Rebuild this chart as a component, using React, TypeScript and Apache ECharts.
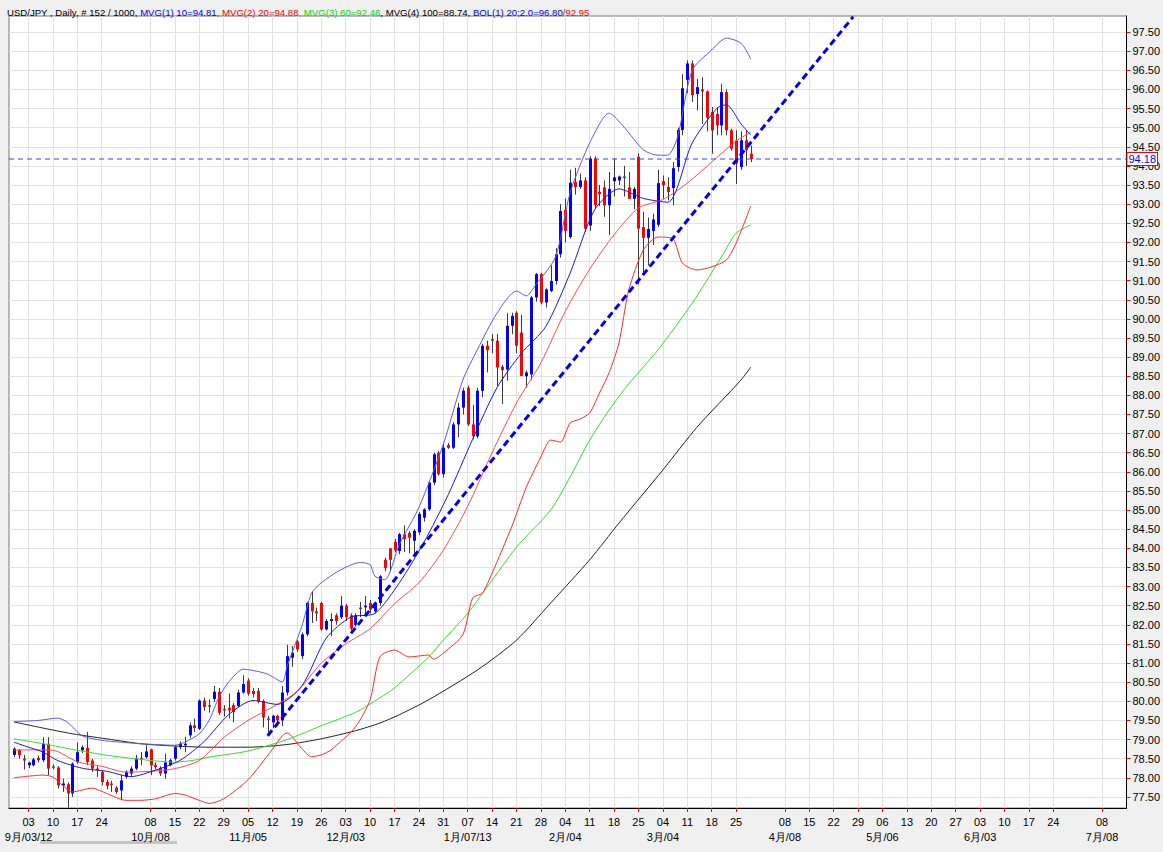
import React, { useEffect, useRef } from "react";
import * as echarts from "echarts";

// ---------- categories (trading days) ----------
const FIRST_DAY = "2012-08-28"; // one padding day before the first bar
const CATEGORY_COUNT = 230;
const BAR_OFFSET = 1; // first bar (2012-08-29) sits on category 1

const hiddenMondays = ["2012-10-01", "2013-04-01", "2013-07-01", "2013-07-15"];
const monthLabels: Record<string, string> = {
  "2012-09-03": "9月/03/12",
  "2012-10-08": "10月/08",
  "2012-11-05": "11月/05",
  "2012-12-03": "12月/03",
  "2013-01-07": "1月/07/13",
  "2013-02-04": "2月/04",
  "2013-03-04": "3月/04",
  "2013-04-08": "4月/08",
  "2013-05-06": "5月/06",
  "2013-06-03": "6月/03",
  "2013-07-08": "7月/08",
};

const yTicks = [
  77.5, 78.0, 78.5, 79.0, 79.5, 80.0, 80.5, 81.0, 81.5, 82.0, 82.5, 83.0, 83.5, 84.0,
  84.5, 85.0, 85.5, 86.0, 86.5, 87.0, 87.5, 88.0, 88.5, 89.0, 89.5, 90.0, 90.5, 91.0,
  91.5, 92.0, 92.5, 93.0, 93.5, 94.0, 94.5, 95.0, 95.5, 96.0, 96.5, 97.0, 97.5,
];

// ---------- candles (152 bars) ----------
const opens = [
  78.60, 78.73, 78.50, 78.33, 78.33, 78.52, 78.46, 78.89, 78.30, 78.27,
  77.80, 77.83, 77.59, 78.41, 78.72, 78.78, 78.45, 78.24, 78.15, 77.89,
  77.85, 77.74, 77.67, 78.02, 78.11, 78.24, 78.50, 78.54, 78.74, 78.33,
  78.26, 78.11, 78.33, 78.50, 78.80, 78.85, 79.11, 79.37, 79.28, 80.02,
  79.87, 80.06, 80.25, 79.80, 79.83, 79.90, 79.88, 80.23, 80.54, 80.27,
  80.27, 80.01, 79.55, 79.45, 79.62, 79.50, 80.23, 81.14, 81.57, 81.18,
  81.75, 82.57, 82.35, 82.57, 81.88, 82.10, 82.25, 82.20, 82.50, 82.25,
  82.00, 82.43, 82.46, 82.57, 82.35, 82.57, 83.70, 84.00, 84.17, 83.93,
  84.37, 84.40, 84.20, 84.42, 84.80, 85.02, 85.72, 86.50, 85.94, 86.70,
  86.63, 87.24, 87.68, 88.20, 87.24, 86.93, 88.12, 89.30, 89.47, 89.43,
  88.75, 88.68, 89.82, 90.16, 89.64, 88.50, 88.55, 90.56, 91.17, 90.43,
  90.73, 90.99, 91.69, 92.85, 92.14, 93.58, 93.45, 93.62, 92.44, 94.19,
  93.32, 93.44, 92.97, 93.60, 93.62, 93.72, 93.44, 93.14, 94.24, 92.40,
  92.12, 92.30, 92.46, 93.60, 93.45, 93.42, 93.97, 94.94, 96.25, 96.68,
  95.88, 96.00, 95.95, 95.41, 95.36, 95.06, 95.93, 94.93, 94.67, 93.97,
  94.67, 94.32,
];
const highs = [
  78.80, 78.75, 78.60, 78.42, 78.52, 78.58, 79.06, 79.06, 78.35, 78.30,
  77.98, 77.88, 78.40, 78.93, 78.85, 79.20, 78.50, 78.30, 78.20, 77.95,
  77.92, 77.78, 78.07, 78.20, 78.30, 78.60, 78.67, 78.85, 78.76, 78.40,
  78.30, 78.63, 78.50, 78.85, 78.95, 79.07, 79.45, 79.55, 80.05, 80.10,
  80.05, 80.40, 80.35, 79.90, 80.20, 79.95, 80.30, 80.68, 80.60, 80.35,
  80.35, 80.05, 79.62, 79.65, 79.65, 80.40, 81.48, 81.45, 81.60, 81.80,
  82.60, 82.88, 82.45, 82.60, 82.15, 82.30, 82.30, 82.75, 82.55, 82.30,
  82.30, 82.60, 82.75, 82.65, 82.60, 83.30, 83.75, 84.00, 84.25, 84.40,
  84.60, 84.45, 84.50, 84.95, 85.05, 85.75, 86.50, 86.55, 86.76, 86.75,
  87.30, 87.80, 88.20, 88.25, 87.75, 88.20, 89.35, 89.43, 89.60, 89.60,
  88.80, 90.15, 90.16, 90.20, 90.10, 88.65, 90.60, 91.20, 91.20, 90.80,
  91.40, 91.85, 93.00, 93.15, 93.90, 93.95, 93.80, 93.70, 94.25, 94.25,
  93.50, 93.62, 93.84, 94.20, 93.75, 94.00, 93.84, 93.45, 94.33, 92.80,
  92.65, 92.75, 93.90, 93.75, 93.70, 94.10, 95.00, 96.40, 96.76, 96.76,
  96.28, 96.32, 95.97, 95.54, 95.54, 96.15, 96.00, 94.97, 94.93, 94.90,
  94.93, 94.53,
];
const lows = [
  78.54, 78.50, 78.22, 78.25, 78.30, 78.40, 78.41, 78.07, 78.22, 77.72,
  77.63, 77.22, 77.50, 78.37, 78.65, 78.33, 78.15, 78.02, 77.80, 77.70,
  77.63, 77.58, 77.41, 77.98, 78.05, 78.20, 78.33, 78.50, 78.07, 78.22,
  78.05, 77.98, 78.30, 78.45, 78.75, 78.67, 79.05, 79.20, 79.25, 79.75,
  79.70, 79.98, 79.65, 79.60, 79.55, 79.45, 79.85, 80.20, 80.15, 80.10,
  79.95, 79.32, 79.19, 79.30, 79.35, 79.35, 80.15, 80.90, 81.30, 81.10,
  81.70, 82.05, 82.10, 81.85, 81.85, 81.70, 82.00, 82.15, 82.10, 81.85,
  81.95, 82.20, 82.25, 82.30, 82.30, 82.50, 83.40, 83.40, 83.90, 83.85,
  83.90, 83.87, 83.80, 84.35, 84.70, 84.98, 85.65, 85.90, 85.85, 86.60,
  86.60, 86.90, 87.50, 87.20, 86.85, 86.88, 87.95, 88.60, 89.10, 88.25,
  87.77, 88.38, 89.60, 89.10, 88.50, 88.20, 88.40, 90.45, 90.38, 90.30,
  90.70, 90.90, 91.60, 92.00, 92.10, 93.25, 93.40, 92.27, 92.30, 92.90,
  92.95, 92.67, 92.20, 93.20, 93.50, 93.20, 93.14, 92.87, 90.90, 91.20,
  91.40, 91.93, 92.40, 93.14, 93.10, 92.97, 93.85, 94.80, 95.90, 95.67,
  95.45, 95.10, 94.90, 94.32, 94.80, 94.80, 94.80, 94.40, 93.53, 93.90,
  94.00, 94.10,
];
const closes = [
  78.76, 78.59, 78.45, 78.40, 78.48, 78.46, 78.89, 78.24, 78.28, 77.80,
  77.85, 77.59, 78.37, 78.67, 78.80, 78.41, 78.24, 78.20, 77.89, 77.79,
  77.82, 77.63, 77.93, 78.15, 78.24, 78.50, 78.52, 78.69, 78.33, 78.28,
  78.11, 78.40, 78.46, 78.80, 78.89, 78.89, 79.37, 79.30, 80.02, 79.85,
  79.90, 80.25, 79.70, 79.78, 79.76, 79.72, 80.23, 80.45, 80.20, 80.19,
  80.00, 79.58, 79.52, 79.62, 79.50, 80.23, 81.18, 81.27, 81.36, 81.75,
  82.57, 82.35, 82.30, 81.88, 82.10, 82.15, 82.10, 82.50, 82.20, 81.90,
  82.25, 82.45, 82.50, 82.40, 82.57, 83.27, 83.48, 83.70, 83.95, 84.37,
  84.24, 84.28, 84.46, 84.90, 85.02, 85.72, 86.46, 85.94, 86.63, 86.63,
  87.24, 87.68, 88.12, 87.24, 86.93, 88.12, 89.30, 89.18, 89.43, 88.73,
  88.66, 89.82, 90.08, 89.30, 88.51, 88.60, 90.56, 91.17, 90.43, 90.77,
  90.99, 91.69, 92.82, 92.30, 93.56, 93.45, 93.62, 92.36, 94.19, 92.97,
  93.26, 92.97, 93.40, 93.70, 93.72, 93.69, 93.14, 93.40, 92.36, 92.12,
  92.35, 92.60, 93.55, 93.50, 93.32, 93.94, 94.94, 96.03, 96.68, 95.85,
  96.06, 95.95, 95.26, 94.93, 95.06, 95.93, 94.93, 94.45, 94.06, 94.67,
  94.41, 94.18,
];

// ---------- indicator lines: [bar index, value] ----------
const mvg10: [number, number][] = [
  [0, 78.93], [3, 78.8], [6, 78.67], [9, 78.45], [14, 78.25], [19, 78.17], [24, 78.03],
  [29, 78.2], [34, 78.45], [39, 78.95], [44, 79.65], [49, 80.02], [54, 79.92], [59, 80.4],
  [64, 81.65], [69, 82.2], [74, 82.3], [79, 83.1], [84, 84.15], [89, 85.4], [94, 86.85],
  [99, 88.2], [104, 89.1], [109, 89.8], [114, 91.2], [119, 92.85], [124, 93.4], [129, 93.15],
  [134, 93.05], [139, 94.6], [144, 95.5], [146, 95.6], [149, 95.1], [151, 94.81],
];
const mvg20: [number, number][] = [
  [0, 78.72], [3, 78.73], [8, 78.72], [13, 78.42], [18, 78.3], [23, 78.15], [28, 78.17],
  [33, 78.24], [38, 78.45], [43, 79.05], [48, 79.5], [53, 79.85], [58, 80.25], [63, 81.0],
  [68, 81.5], [73, 81.9], [78, 82.55], [83, 83.1], [88, 83.95], [93, 85.1], [98, 86.5],
  [103, 87.8], [108, 88.85], [113, 90.2], [118, 91.3], [123, 92.2], [128, 92.9], [133, 93.12],
  [138, 93.55], [143, 94.1], [148, 94.65], [151, 94.88],
];
const mvg60: [number, number][] = [
  [0, 79.02], [6, 78.89], [13, 78.72], [19, 78.59], [26, 78.48], [30, 78.43], [33, 78.41],
  [37, 78.46], [40, 78.54], [48, 78.7], [56, 79.0], [63, 79.36], [70, 79.71], [75, 80.09],
  [78, 80.35], [85, 81.16], [88, 81.6], [93, 82.3], [97, 82.99], [103, 84.03], [110, 85.0],
  [114, 85.87], [118, 86.83], [122, 87.62], [126, 88.3], [132, 89.19], [139, 90.41],
  [145, 91.62], [148, 92.24], [151, 92.46],
];
const mvg100: [number, number][] = [
  [0, 79.46], [6, 79.3], [12, 79.15], [20, 79.0], [26, 78.89], [33, 78.83], [40, 78.8],
  [48, 78.8], [56, 78.87], [63, 79.02], [70, 79.23], [75, 79.43], [79, 79.65], [85, 80.04],
  [95, 80.82], [103, 81.6], [110, 82.57], [118, 83.7], [124, 84.66], [133, 86.05],
  [140, 87.17], [149, 88.4], [151, 88.74],
];
const bolUpper: [number, number][] = [
  [0, 79.47], [5, 79.5], [9, 79.56], [11, 79.45], [14, 79.1], [18, 78.98], [23, 78.92],
  [26, 78.89], [29, 78.87], [33, 78.85], [35, 78.93], [38, 79.15], [40, 79.5], [42, 80.1],
  [44, 80.5], [47, 80.84], [50, 80.78], [52, 80.71], [55, 80.51], [56, 80.92], [59, 81.96],
  [61, 82.83], [63, 83.1], [67, 83.44], [71, 83.63], [73, 83.57], [74, 83.27], [76, 83.18],
  [79, 84.1], [83, 85.07], [88, 86.72], [92, 88.4], [95, 89.2], [99, 90.15], [103, 90.73],
  [105, 90.6], [107, 90.9], [111, 91.62], [114, 93.3], [118, 94.6], [122, 95.38],
  [125, 95.02], [129, 94.42], [132, 94.28], [134, 94.28], [136, 94.75], [139, 96.5],
  [143, 97.03], [146, 97.34], [149, 97.21], [151, 96.8],
];
const bolLower: [number, number][] = [
  [0, 78.0], [6, 78.07], [8, 78.02], [10, 77.8], [12, 77.63], [16, 77.73], [19, 77.59],
  [23, 77.41], [26, 77.41], [29, 77.45], [33, 77.59], [35, 77.55], [38, 77.41], [40, 77.33],
  [43, 77.45], [48, 77.95], [53, 78.75], [55, 79.1], [56, 79.17], [59, 78.76], [61, 78.55],
  [63, 78.6], [65, 78.73], [70, 79.33], [73, 80.04], [75, 81.16], [78, 81.34], [81, 81.16],
  [85, 81.21], [86, 81.1], [88, 81.26], [92, 81.74], [94, 82.7], [96, 82.83], [98, 83.35],
  [102, 84.56], [105, 85.6], [106, 85.87], [108, 86.39], [110, 86.83], [112, 86.78],
  [114, 87.28], [116, 87.38], [118, 87.54], [120, 88.06], [122, 88.6], [124, 89.37],
  [126, 90.75], [129, 91.8], [132, 92.14], [135, 92.1], [137, 91.46], [140, 91.28],
  [143, 91.36], [146, 91.54], [148, 91.98], [151, 92.95],
];

// trend line (bar index, price) and the last-price line
const trendStart: [number, number] = [52, 79.1];
const trendEnd: [number, number] = [172, 97.9];
const lastPrice = 94.18;

const FONT = "'Liberation Sans', Arial, sans-serif";
const TITLE_SIZE = 9.6;
const GRID_BOTTOM = 44;

function buildCategories(): string[] {
  const out: string[] = [];
  const d = new Date(FIRST_DAY + "T00:00:00Z");
  while (out.length < CATEGORY_COUNT) {
    const wd = d.getUTCDay();
    if (wd !== 0 && wd !== 6) out.push(d.toISOString().slice(0, 10));
    d.setUTCDate(d.getUTCDate() + 1);
  }
  return out;
}

export default function App() {
  const ref = useRef<HTMLDivElement>(null);

  useEffect(() => {
    if (!ref.current) return;
    const chart = echarts.init(ref.current, undefined, { renderer: "svg" });
    const categories = buildCategories();
    const tickDates = new Set(
      categories.filter(
        (s) => new Date(s + "T00:00:00Z").getUTCDay() === 1 && hiddenMondays.indexOf(s) < 0
      )
    );
    const isTick = (i: number) => tickDates.has(categories[i]);

    const candleData = opens.map((o, i) => [i + BAR_OFFSET, o, highs[i], lows[i], closes[i]]);
    const shift = (arr: [number, number][]) => arr.map(([i, v]) => [i + BAR_OFFSET, v]);

    const lineSeries = (name: string, data: [number, number][], color: string, extra: any = {}) => ({
      name,
      type: "line",
      data: shift(data),
      showSymbol: false,
      smooth: 0.25,
      silent: true,
      z: 3,
      lineStyle: { color, width: 1 },
      ...extra,
    });

    const rich = {
      k: { color: "#000", fontSize: TITLE_SIZE, fontFamily: FONT },
      b: { color: "#0000ff", fontSize: TITLE_SIZE, fontFamily: FONT },
      r: { color: "#ff0000", fontSize: TITLE_SIZE, fontFamily: FONT },
      g: { color: "#00dd00", fontSize: TITLE_SIZE, fontFamily: FONT },
    };

    const scrollbar = {
      id: "scrollbar",
      type: "rect",
      left: 40,
      top: 841,
      z: 1,
      shape: { width: 137, height: 3 },
      style: { fill: "#c4c4c4" },
      silent: true,
    };

    const option: any = {
      animation: false,
      backgroundColor: "#f0f0f0",
      textStyle: { fontFamily: FONT },
      title: {
        left: 2,
        top: 2,
        text:
          "{k|USD/JPY , Daily, # 152 / 1000, }{b|MVG(1) 10=94.81}{r|, MVG(2) 20=94.88}" +
          "{g|, MVG(3) 60=92.46}{k|, MVG(4) 100=88.74, }{b|BOL(1) 20;2.0=96.80}{r|/92.95}",
        textStyle: { fontSize: TITLE_SIZE, fontWeight: "normal", fontFamily: FONT, rich },
      },
      grid: {
        left: 9,
        right: 33,
        top: 16,
        bottom: GRID_BOTTOM,
        show: true,
        backgroundColor: "#ffffff",
        borderColor: "#777",
        borderWidth: 1,
      },
      xAxis: {
        type: "category",
        data: categories,
        boundaryGap: false,
        axisLine: { show: true, lineStyle: { color: "#000", width: 1 } },
        axisTick: {
          show: true,
          interval: (i: number) => isTick(i),
          length: 4,
          lineStyle: { color: "#ff0000" },
        },
        axisLabel: { show: false },
        splitLine: {
          show: true,
          interval: (i: number) => isTick(i),
          lineStyle: { color: "#e2e2e2", width: 1 },
        },
      },
      yAxis: {
        type: "value",
        position: "right",
        min: 77.21,
        max: 97.92,
        axisLine: { show: true, lineStyle: { color: "#000", width: 1 } },
        axisTick: {
          show: true,
          customValues: yTicks,
          length: 4,
          lineStyle: { color: "#ff0000" },
        },
        axisLabel: {
          customValues: yTicks,
          formatter: (v: number) => v.toFixed(2),
          color: "#000",
          fontSize: 11,
          fontFamily: FONT,
          margin: 6,
        },
        splitLine: { show: true, lineStyle: { color: "#e2e2e2", width: 1 } },
      },
      series: [
        {
          name: "USD/JPY",
          type: "custom",
          data: candleData,
          encode: { x: 0, y: [1, 2, 3, 4] },
          z: 2,
          silent: true,
          renderItem: (_params: any, api: any) => {
            const x = api.value(0);
            const o = api.value(1);
            const h = api.value(2);
            const l = api.value(3);
            const c = api.value(4);
            const pO = api.coord([x, o]);
            const pC = api.coord([x, c]);
            const pH = api.coord([x, h]);
            const pL = api.coord([x, l]);
            const px = Math.round(pO[0]) + 0.5;
            const top = Math.min(pO[1], pC[1]);
            const bot = Math.max(pO[1], pC[1]);
            const diff = c - o;
            const color = Math.abs(diff) < 0.035 ? "#555555" : diff > 0 ? "#0000ff" : "#ff0000";
            return {
              type: "group",
              children: [
                {
                  type: "line",
                  shape: { x1: px, y1: pH[1], x2: px, y2: pL[1] },
                  style: { stroke: "#3a3a3a", lineWidth: 1 },
                },
                {
                  type: "rect",
                  shape: { x: px - 1.5, y: top, width: 3, height: Math.max(bot - top, 1.5) },
                  style: { fill: color },
                },
              ],
            };
          },
        },
        {
          name: "last",
          type: "line",
          data: [
            [0, lastPrice],
            [CATEGORY_COUNT - 1, lastPrice],
          ],
          showSymbol: false,
          silent: true,
          z: 4,
          lineStyle: { color: "#3c3cff", width: 1, type: [5, 4] },
          endLabel: {
            show: true,
            formatter: lastPrice.toFixed(2),
            color: "#0000ff",
            backgroundColor: "#ffffff",
            borderColor: "#ff0000",
            borderWidth: 1,
            padding: [1, 1, 0, 1],
            distance: 1,
            fontSize: 11,
            fontFamily: FONT,
          },
        },
        lineSeries("MVG(4) 100", mvg100, "#222222"),
        lineSeries("MVG(3) 60", mvg60, "#33dd33"),
        lineSeries("BOL lower", bolLower, "#ff2a2a"),
        lineSeries("BOL upper", bolUpper, "#5a5ae6"),
        lineSeries("MVG(2) 20", mvg20, "#ff4a4a"),
        lineSeries("MVG(1) 10", mvg10, "#1a1ad0", {
          markLine: {
            silent: true,
            symbol: ["none", "none"],
            animation: false,
            lineStyle: { type: [7, 4], color: "#0000ee", width: 3 },
            label: { show: false },
            data: [
              [
                { coord: [trendStart[0] + BAR_OFFSET, trendStart[1]] },
                { coord: [trendEnd[0] + BAR_OFFSET, trendEnd[1]] },
              ],
            ],
          },
        }),
      ],
      graphic: [scrollbar],
    };

    chart.setOption(option);

    // date axis labels (two rows), positioned through the category scale
    const axisY = chart.getHeight() - GRID_BOTTOM;
    const textStyle = (text: string) => ({
      text,
      align: "center",
      verticalAlign: "middle",
      fill: "#000",
      font: "11px 'Liberation Sans', Arial, sans-serif",
    });
    const dateTexts: any[] = [];
    categories.forEach((c, i) => {
      if (!tickDates.has(c)) return;
      const px = chart.convertToPixel({ xAxisIndex: 0 }, i);
      const x = Array.isArray(px) ? px[0] : (px as number);
      dateTexts.push({
        id: "day-" + c,
        type: "text",
        x,
        y: axisY + 14,
        z: 100,
        silent: true,
        style: textStyle(c.slice(8, 10)),
      });
      const m = monthLabels[c];
      if (m) {
        dateTexts.push({
          id: "month-" + c,
          type: "text",
          x,
          y: axisY + 29,
          z: 99,
          silent: true,
          style: textStyle(m),
        });
      }
    });
    chart.setOption({ graphic: [scrollbar, ...dateTexts] }, { replaceMerge: ["graphic"] });

    return () => chart.dispose();
  }, []);

  return (
    <div
      ref={ref}
      style={{ position: "absolute", left: 0, top: 0, width: 1163, height: 852 }}
    />
  );
}
